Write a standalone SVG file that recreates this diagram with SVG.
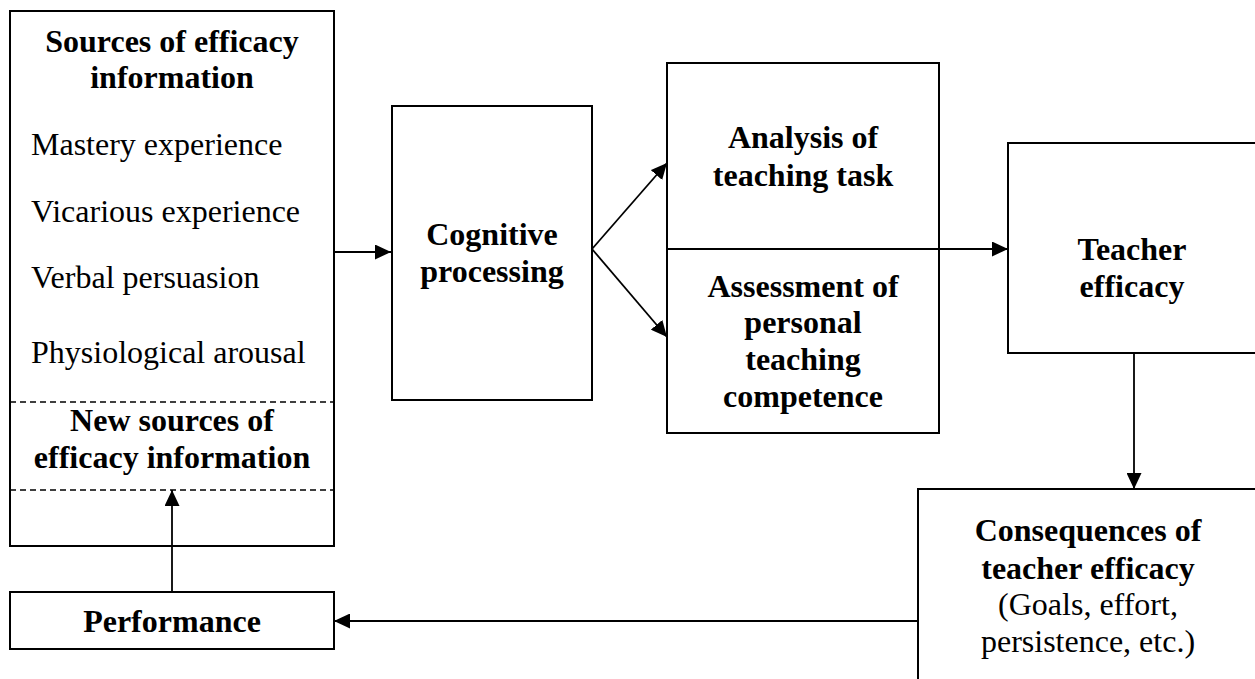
<svg xmlns="http://www.w3.org/2000/svg" width="1255" height="679" viewBox="0 0 1255 679">
<defs>
<marker id="ah" markerUnits="userSpaceOnUse" markerWidth="17" markerHeight="15" refX="16" refY="7.5" orient="auto">
<path d="M0,0 L16,7.5 L0,15 Z" fill="#000"/>
</marker>
<style>
.box{fill:#fff;stroke:#000;stroke-width:2}
.dash{stroke:#000;stroke-width:1.5;stroke-dasharray:6,4;fill:none}
.conn{stroke:#000;stroke-width:1.8;fill:none}
text{font-family:"Liberation Serif","Times New Roman",serif;font-size:32px;fill:#000}
.b{font-weight:bold;text-anchor:middle}
.c{text-anchor:middle}
</style>
</defs>
<rect width="1255" height="679" fill="#fff"/>
<g id="sources">
<rect class="box" x="10" y="11" width="324" height="535"/>
<text class="b" x="172" y="52">Sources of efficacy</text>
<text class="b" x="172" y="88">information</text>
<text x="31" y="155">Mastery experience</text>
<text x="31" y="222">Vicarious experience</text>
<text x="31" y="288">Verbal persuasion</text>
<text x="31" y="363">Physiological arousal</text>
<line class="dash" x1="10" y1="402" x2="334" y2="402"/>
<text class="b" x="172" y="431">New sources of</text>
<text class="b" x="172" y="468">efficacy information</text>
<line class="dash" x1="10" y1="490" x2="334" y2="490"/>
</g>
<g id="cognitive">
<rect class="box" x="392" y="106" width="200" height="294"/>
<text class="b" x="492" y="245">Cognitive</text>
<text class="b" x="492" y="282">processing</text>
</g>
<g id="analysis">
<rect class="box" x="667" y="63" width="272" height="370"/>
<line stroke="#000" stroke-width="1.8" x1="667" y1="249" x2="939" y2="249"/>
<text class="b" x="803" y="148">Analysis of</text>
<text class="b" x="803" y="186">teaching task</text>
<text class="b" x="803" y="297">Assessment of</text>
<text class="b" x="803" y="333">personal</text>
<text class="b" x="803" y="370">teaching</text>
<text class="b" x="803" y="407">competence</text>
</g>
<g id="teacher">
<rect class="box" x="1008" y="143" width="252" height="210"/>
<text class="b" x="1132" y="260">Teacher</text>
<text class="b" x="1132" y="297">efficacy</text>
</g>
<g id="consequences">
<rect class="box" x="918" y="489" width="345" height="200"/>
<text class="b" x="1088" y="541">Consequences of</text>
<text class="b" x="1088" y="579">teacher efficacy</text>
<text class="c" x="1088" y="615">(Goals, effort,</text>
<text class="c" x="1088" y="652">persistence, etc.)</text>
</g>
<g id="performance">
<rect class="box" x="10" y="592" width="324" height="57"/>
<text class="b" x="172" y="632">Performance</text>
</g>
<g id="connectors">
<line class="conn" x1="334" y1="252" x2="391" y2="252" marker-end="url(#ah)"/>
<line class="conn" x1="592" y1="249" x2="667" y2="163" marker-end="url(#ah)"/>
<line class="conn" x1="592" y1="249" x2="667" y2="337" marker-end="url(#ah)"/>
<line class="conn" x1="939" y1="249" x2="1008" y2="249" marker-end="url(#ah)"/>
<line class="conn" x1="1134" y1="353" x2="1134" y2="489" marker-end="url(#ah)"/>
<line class="conn" x1="918" y1="621" x2="334" y2="621" marker-end="url(#ah)"/>
<line class="conn" x1="172" y1="592" x2="172" y2="490" marker-end="url(#ah)"/>
</g>
</svg>
